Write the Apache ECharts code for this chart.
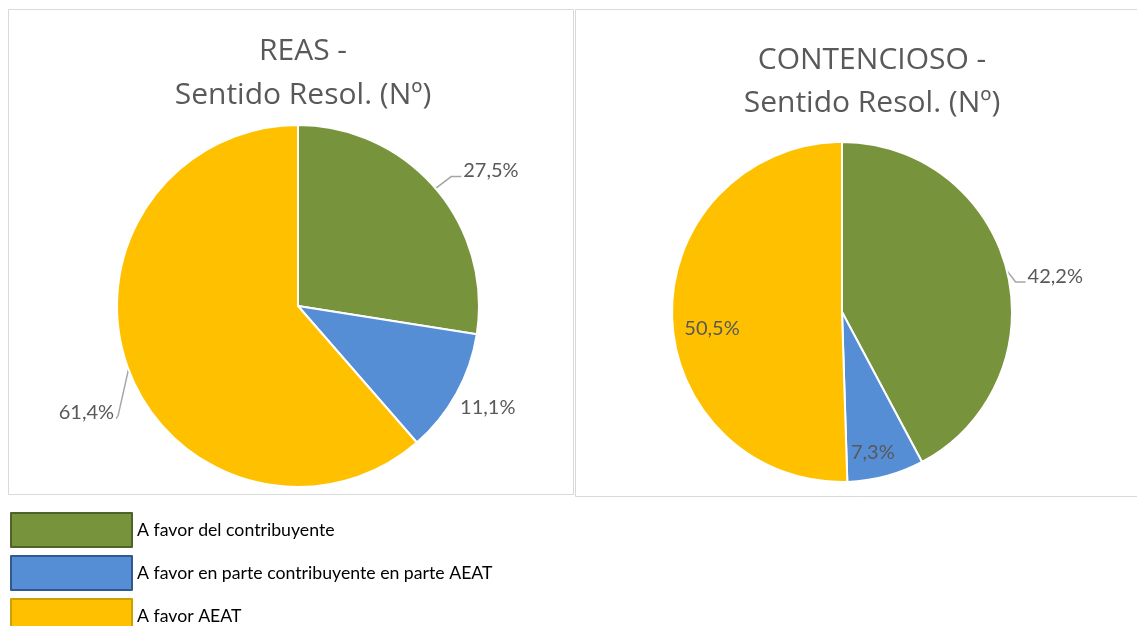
<!DOCTYPE html>
<html lang="es">
<head>
	<meta charset="UTF-8">
	<title>Sentido Resol.</title>
	<style type="text/css">
	body,html{
		width: 100%;
		height: 100%;
		margin: 0;
		padding: 0;
		background: #fff;
	}
	#container{
		width: 1137px;
		height: 626px;
	}
	</style>
</head>
<body>
<div id="container"></div>
<script type="text/javascript" src="https://cdn.jsdelivr.net/npm/echarts@6/dist/echarts.min.js"></script>
<script type="text/javascript">
	// datos
	var categories = ['A favor del contribuyente', 'A favor en parte contribuyente en parte AEAT', 'A favor AEAT'];
	var reasValues = [27.5, 11.1, 61.4];
	var contValues = [42.2, 7.3, 50.5];
	var sliceColors = ['#77933C', '#558ED5', '#FFC000'];
	var legendBorders = ['#4F6228', '#2F5A8F', '#D0A000'];

	var FONT = 'Lato, "Open Sans", sans-serif';
	var TITLE_FONT = '"Open Sans", Lato, sans-serif';

	// ajuste fino de etiquetas como en el original: [dx, dy] por dato
	var reasShift = [[5, -11], [-20, 9], [10, 40]];
	var contShift = [[-4, 8], [-5, 6], [9, 14]];

	function fmt(p) {
		return p.value.toFixed(1).replace('.', ',') + '%';
	}

	// mueve la etiqueta y redibuja su línea guía hasta la nueva posición
	function shiftBy(table, onlyIndex) {
		return function (params) {
			var s = table[params.dataIndex];
			if (!s) return;
			if (onlyIndex != null && onlyIndex.indexOf(params.dataIndex) < 0) return;
			var out = { dx: s[0], dy: s[1] };
			var pts = params.labelLinePoints;
			if (pts && pts.length) {
				var r = params.labelRect;
				var start = pts[0];
				var y = r.y + s[1] + r.height * 0.78;
				var onRight = r.x > start[0] - 5;
				var end, mid;
				if (onRight) {
					end = [r.x + s[0] - 2, y];
					mid = [end[0] - 10, y];
				} else {
					end = [r.x + r.width + s[0] + 2, y];
					mid = [end[0] + 2, y - 3];
				}
				out.labelLinePoints = [start, mid, end];
			}
			return out;
		};
	}

	function buildData(values, labelFor) {
		return values.map(function (v, i) {
			var item = {
				name: categories[i],
				value: v,
				itemStyle: { color: sliceColors[i] }
			};
			if (labelFor) Object.assign(item, labelFor(i));
			return item;
		});
	}

	var labelStyle = {
		formatter: fmt,
		color: '#595959',
		fontSize: 20,
		fontFamily: FONT
	};

	var lineStyle = { length: 10, length2: 10, lineStyle: { color: '#a6a6a6', width: 1.5 } };

	var titleStyle = {
		color: '#595959', fontSize: 30, fontWeight: 'normal', fontFamily: TITLE_FONT, lineHeight: 44
	};

	var option = {
		backgroundColor: '#fff',
		animation: false,
		title: [{
			text: 'REAS -\nSentido Resol. (Nº)',
			left: 298,
			top: 24,
			textAlign: 'center',
			textStyle: titleStyle
		}, {
			text: 'CONTENCIOSO -\nSentido Resol. (Nº)',
			left: 867,
			top: 34,
			textAlign: 'center',
			textStyle: Object.assign({}, titleStyle, { lineHeight: 43 })
		}],
		legend: {
			orient: 'vertical',
			left: 10,
			top: 512,
			height: 300,
			padding: 0,
			itemWidth: 121,
			itemHeight: 34,
			itemGap: 7,
			icon: 'rect',
			selectedMode: false,
			textStyle: { color: '#000', fontSize: 17.7, fontFamily: FONT },
			data: categories.map(function (c, i) {
				return {
					name: c,
					itemStyle: { color: sliceColors[i], borderColor: legendBorders[i], borderWidth: 2 }
				};
			})
		},
		graphic: [{
			type: 'rect',
			shape: { x: 8.5, y: 9.5, width: 565, height: 485 },
			style: { fill: 'none', stroke: '#d9d9d9', lineWidth: 1 }
		}, {
			type: 'rect',
			shape: { x: 575.5, y: 9.5, width: 570, height: 487 },
			style: { fill: 'none', stroke: '#d9d9d9', lineWidth: 1 }
		}],
		series: [{
			name: 'REAS',
			type: 'pie',
			center: [298, 306],
			radius: [0, 181],
			startAngle: 90,
			avoidLabelOverlap: false,
			silent: true,
			itemStyle: { borderColor: '#fff', borderWidth: 2 },
			label: Object.assign({ position: 'outside' }, labelStyle),
			labelLine: lineStyle,
			labelLayout: shiftBy(reasShift),
			data: buildData(reasValues, function (i) {
				return i === 1 ? { labelLine: { show: false } } : {};
			})
		}, {
			name: 'CONTENCIOSO',
			type: 'pie',
			center: [842, 312],
			radius: [0, 170],
			startAngle: 90,
			avoidLabelOverlap: false,
			silent: true,
			itemStyle: { borderColor: '#fff', borderWidth: 2 },
			label: Object.assign({ position: 'outside' }, labelStyle),
			labelLine: lineStyle,
			labelLayout: shiftBy(contShift, [0]),
			data: buildData(contValues, function (i) {
				return i === 0 ? {} : { label: { show: false }, labelLine: { show: false } };
			})
		}, {
			// capa transparente para colocar las etiquetas interiores
			name: 'CONTENCIOSO-labels',
			type: 'pie',
			center: [842, 312],
			radius: [102, 170],
			startAngle: 90,
			avoidLabelOverlap: false,
			silent: true,
			itemStyle: { color: 'rgba(0,0,0,0)', borderWidth: 0 },
			labelLine: { show: false },
			label: Object.assign({ position: 'inside' }, labelStyle),
			labelLayout: shiftBy(contShift, [1, 2]),
			data: contValues.map(function (v, i) {
				return {
					name: categories[i],
					value: v,
					itemStyle: { color: 'rgba(0,0,0,0)' },
					label: i === 0 ? { show: false } : {}
				};
			})
		}]
	};

	var chart = echarts.init(document.getElementById('container'));
	chart.setOption(option);
</script>
</body>
</html>
